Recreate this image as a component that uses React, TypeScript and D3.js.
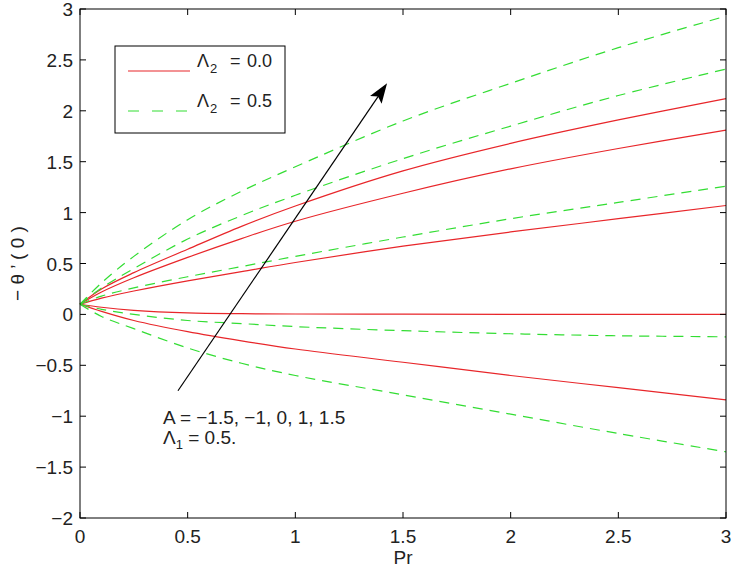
import React from "react";
import * as d3 from "d3";

const prValues = [0, 0.1, 0.25, 0.5, 0.75, 1, 1.5, 2, 2.5, 3];

// Λ2 = 0.0 (red, solid)
const red_A15 = [0.1, 0.25, 0.41, 0.64, 0.865, 1.065, 1.41, 1.68, 1.91, 2.12];
const red_A1 = [0.1, 0.22, 0.36, 0.56, 0.745, 0.915, 1.19, 1.43, 1.63, 1.81];
const red_A0 = [0.1, 0.16, 0.23, 0.33, 0.42, 0.51, 0.67, 0.81, 0.94, 1.07];
const red_Am1 = [0.1, 0.07, 0.04, 0.015, 0.007, 0.004, 0.002, 0.001, 0.0, 0.0];
const red_Am15 = [0.1, 0.03, -0.06, -0.17, -0.26, -0.34, -0.47, -0.6, -0.72, -0.84];

// Λ2 = 0.5 (green, dashed)
const green_A15 = [0.1, 0.31, 0.57, 0.93, 1.21, 1.45, 1.9, 2.27, 2.62, 2.93];
const green_A1 = [0.1, 0.26, 0.45, 0.74, 0.97, 1.17, 1.53, 1.85, 2.15, 2.41];
const green_A0 = [0.1, 0.18, 0.26, 0.37, 0.47, 0.57, 0.76, 0.94, 1.1, 1.26];
const green_Am1 = [0.1, 0.05, 0.0, -0.06, -0.09, -0.12, -0.16, -0.19, -0.21, -0.22];
const green_Am15 = [0.1, -0.02, -0.14, -0.33, -0.48, -0.6, -0.79, -0.98, -1.17, -1.35];

const xTicks = [0, 0.5, 1, 1.5, 2, 2.5, 3];
const yTicks = [-2, -1.5, -1, -0.5, 0, 0.5, 1, 1.5, 2, 2.5, 3];

const arrowStart = [0.455, -0.75];
const arrowEnd = [1.426, 2.27];

const RED = "#e8262a";
const GREEN = "#33dd33";

export default function App() {
  const left = 80, right = 726, top = 9, bottom = 518;
  const x = d3.scaleLinear().domain([0, 3]).range([left, right]);
  const y = d3.scaleLinear().domain([-2, 3]).range([bottom, top]);
  const line = d3
    .line<number>()
    .x((_, i) => x(prValues[i]))
    .y((d) => y(d))
    .curve(d3.curveCatmullRom.alpha(0.5));

  const reds = [red_A15, red_A1, red_A0, red_Am1, red_Am15];
  const greens = [green_A15, green_A1, green_A0, green_Am1, green_Am15];
  const font = "'Liberation Sans', Arial, Helvetica, sans-serif";
  const tickLen = 6;

  const ax0 = x(arrowStart[0]), ay0 = y(arrowStart[1]);
  const ax1 = x(arrowEnd[0]), ay1 = y(arrowEnd[1]);
  const ang = Math.atan2(ay1 - ay0, ax1 - ax0);
  const hl = 20, hw = 7;
  const bx = ax1 - hl * Math.cos(ang), by = ay1 - hl * Math.sin(ang);
  const head = [
    [ax1, ay1],
    [bx + hw * Math.sin(ang), by - hw * Math.cos(ang)],
    [ax1 - 0.8 * hl * Math.cos(ang), ay1 - 0.8 * hl * Math.sin(ang)],
    [bx - hw * Math.sin(ang), by + hw * Math.cos(ang)],
  ];

  const legendEntry = (yLine: number, label: string) => (
    <text y={yLine - 4} fontSize={18} fill="#222">
      <tspan x={197}>{"\u039B"}</tspan>
      <tspan x={210} dy={6} fontSize={13}>2</tspan>
      <tspan x={230} dy={-6}>=</tspan>
      <tspan x={247}>{label}</tspan>
    </text>
  );

  return (
    <svg width={734} height={571} style={{ position: "absolute", left: 0, top: 0, background: "#fff" }} fontFamily={font}>
      <rect x={0} y={0} width={734} height={571} fill="#fff" />
      {reds.map((s, i) => (
        <path key={"r" + i} d={line(s) || ""} fill="none" stroke={RED} strokeWidth={1.2} />
      ))}
      {greens.map((s, i) => (
        <path key={"g" + i} d={line(s) || ""} fill="none" stroke={GREEN} strokeWidth={1.2} strokeDasharray="10,7" />
      ))}
      {/* frame */}
      <rect x={left} y={top} width={right - left} height={bottom - top} fill="none" stroke="#000" strokeWidth={1} />
      {xTicks.map((t) => (
        <g key={"x" + t}>
          <line x1={x(t)} x2={x(t)} y1={bottom} y2={bottom - tickLen} stroke="#000" />
          <line x1={x(t)} x2={x(t)} y1={top} y2={top + tickLen} stroke="#000" />
          <text x={x(t)} y={bottom + 25} fontSize={19} textAnchor="middle" fill="#222">
            {String(t)}
          </text>
        </g>
      ))}
      {yTicks.map((t) => (
        <g key={"y" + t}>
          <line x1={left} x2={left + tickLen} y1={y(t)} y2={y(t)} stroke="#000" />
          <line x1={right} x2={right - tickLen} y1={y(t)} y2={y(t)} stroke="#000" />
          <text x={left - 7} y={y(t) + 7} fontSize={19} textAnchor="end" fill="#222">
            {t < 0 ? "\u2212" + String(-t) : String(t)}
          </text>
        </g>
      ))}
      <text x={(left + right) / 2} y={564} fontSize={19} textAnchor="middle" fill="#222">Pr</text>
      <text transform={`translate(24, ${(top + bottom) / 2}) rotate(-90)`} fontSize={19} textAnchor="middle" fill="#222">
        {"\u2212 \u03B8 \u2019 ( 0 )"}
      </text>
      {/* arrow */}
      <line x1={ax0} y1={ay0} x2={ax1 - 10 * Math.cos(ang)} y2={ay1 - 10 * Math.sin(ang)} stroke="#000" strokeWidth={1.2} />
      <polygon points={head.map((p) => p.join(",")).join(" ")} fill="#000" />
      <text x={163} y={424} fontSize={19} fill="#222">{"A = \u22121.5, \u22121, 0, 1, 1.5"}</text>
      <text x={163} y={444} fontSize={19} fill="#222">
        {"\u039B"}
        <tspan dy={5} fontSize={13}>1</tspan>
        <tspan dy={-5}>{" = 0.5."}</tspan>
      </text>
      {/* legend */}
      <rect x={115} y={46} width={170} height={87} fill="#fff" stroke="#000" strokeWidth={1} />
      <line x1={128} x2={190} y1={71} y2={71} stroke={RED} strokeWidth={1.2} />
      <line x1={128} x2={190} y1={111} y2={111} stroke={GREEN} strokeWidth={1.2} strokeDasharray="11,13" />
      {legendEntry(71, "0.0")}
      {legendEntry(111, "0.5")}
    </svg>
  );
}
